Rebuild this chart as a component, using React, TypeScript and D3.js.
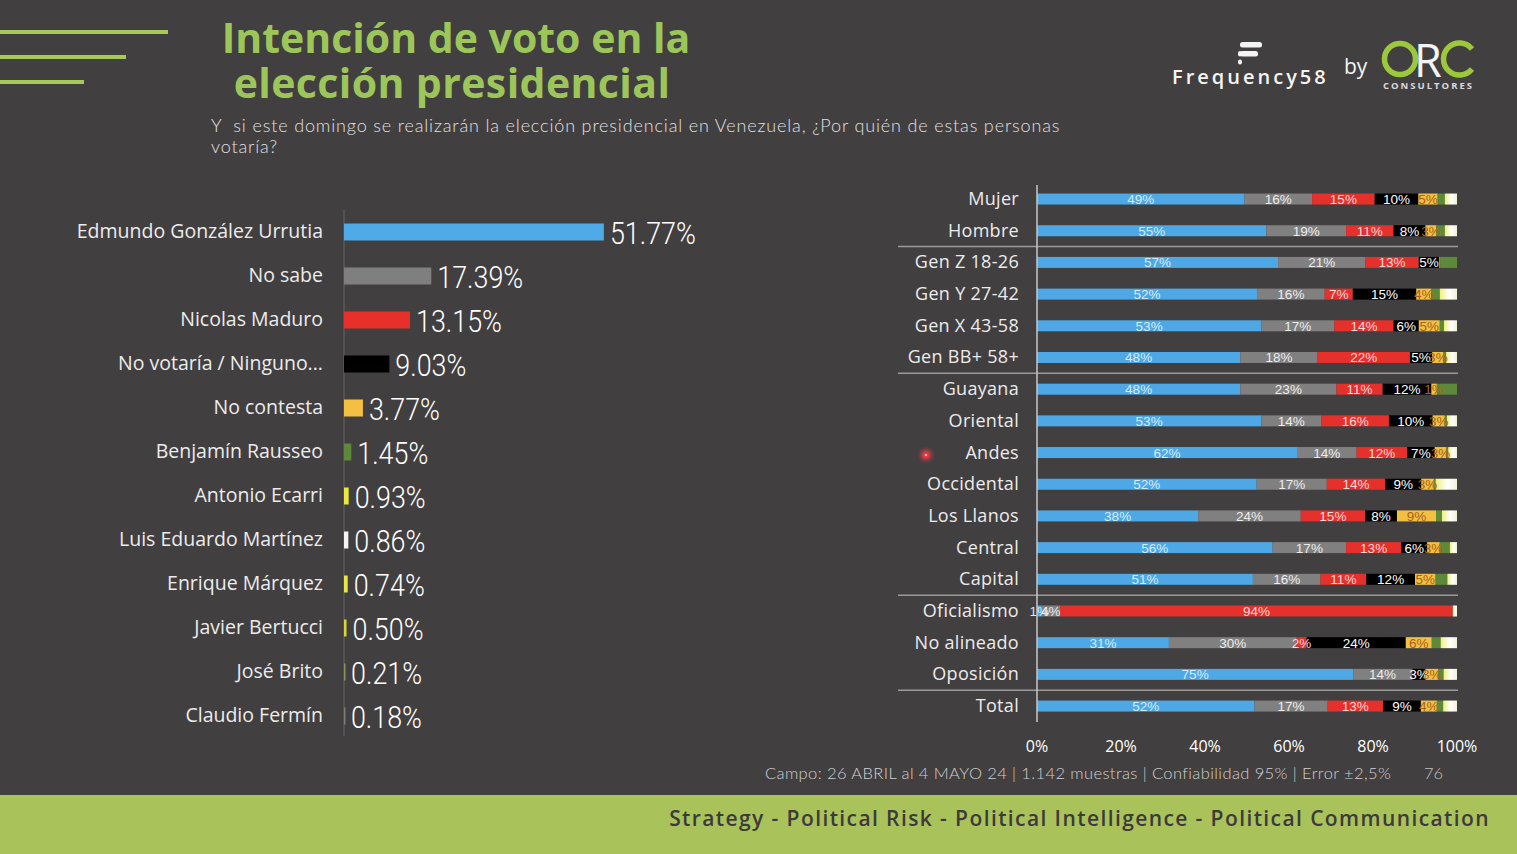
import React, { useEffect } from "react";
import * as d3 from "d3";

// ---------- Left chart data ----------
const candidates = [
  "Edmundo González Urrutia",
  "No sabe",
  "Nicolas Maduro",
  "No votaría / Ninguno...",
  "No contesta",
  "Benjamín Rausseo",
  "Antonio Ecarri",
  "Luis Eduardo Martínez",
  "Enrique Márquez",
  "Javier Bertucci",
  "José Brito",
  "Claudio Fermín",
];
const candidateValues = [51.77, 17.39, 13.15, 9.03, 3.77, 1.45, 0.93, 0.86, 0.74, 0.5, 0.21, 0.18];
const candidateColors = [
  "#4faae8", "#7f7f7f", "#e8302a", "#000000", "#f5bf42", "#5d8a3a",
  "#e9e93c", "#f4f4f4", "#e6e64a", "#d6d63c", "#8e8e5e", "#7d7b6e",
];

// ---------- Right chart data ----------
const rowLabels = [
  "Mujer", "Hombre", "Gen Z 18-26", "Gen Y 27-42", "Gen X 43-58", "Gen BB+ 58+",
  "Guayana", "Oriental", "Andes", "Occidental", "Los Llanos", "Central", "Capital",
  "Oficialismo", "No alineado", "Oposición", "Total",
];
const separatorsAfter = ["Hombre", "Gen BB+ 58+", "Capital", "Oposición"];
const seriesKeys = ["egu", "noSabe", "maduro", "ninguno", "noContesta", "rausseo", "otros"];
const egu = [49.4, 54.6, 57.4, 52.4, 53.4, 48.4, 48.4, 53.4, 61.9, 52.3, 38.4, 56.1, 51.4, 1.1, 31.4, 75.3, 51.8];
const noSabe = [16.1, 19.0, 20.8, 16.1, 17.4, 18.4, 22.9, 14.3, 14.2, 16.7, 24.4, 17.5, 16.1, 4.4, 30.4, 13.9, 17.4];
const maduro = [14.9, 11.3, 12.7, 6.7, 14.1, 22.0, 11.0, 16.1, 12.0, 13.9, 15.3, 13.1, 10.9, 93.5, 2.4, 0.2, 13.2];
const ninguno = [10.4, 7.6, 4.9, 15.1, 6.0, 5.3, 11.6, 10.4, 6.6, 8.6, 7.6, 6.2, 11.6, 0, 23.6, 3.1, 9.0];
const noContesta = [4.6, 2.6, 0.2, 3.6, 5.0, 2.7, 1.3, 2.9, 2.8, 3.0, 9.3, 3.0, 4.9, 0, 6.2, 3.0, 3.8];
const rausseo = [1.7, 2.0, 4.0, 2.0, 1.0, 0.6, 4.8, 0.5, 0.4, 0.4, 1.4, 2.4, 2.8, 0, 2.1, 1.3, 1.5];
const otros = [2.9, 2.9, 0, 4.1, 3.1, 2.6, 0, 2.4, 2.1, 5.1, 3.6, 1.7, 2.3, 1.0, 3.9, 3.2, 3.3];
const seriesColors = ["#4ea8e6", "#808080", "#e5302b", "#000000", "#f2c043", "#5c8a3a", "url(#otrosGrad)"];
const segLabelColors = ["#d4ebfa", "#ececec", "#ffd8d8", "#ffffff", "#a8621c"];
const xTicks = [0, 20, 40, 60, 80, 100];

const BG = "#423f40";
const GREEN = "#9dc65a";
const LABEL_FONT = "'Open Sans', 'Noto Sans', sans-serif";
const LIGHT_FONT = "Lato, 'Open Sans', sans-serif";

export default function App() {
  useEffect(() => {
    document.body.style.margin = "0";
    document.body.style.background = BG;
  }, []);

  const W = 1517, H = 854;

  // left scales
  const xL = d3.scaleLinear().domain([0, 100]).range([344, 846]);
  const yL = d3.scalePoint<string>().domain(candidates).range([210, 738]).padding(0.5);

  // right scales
  const xR = d3.scaleLinear().domain([0, 100]).range([1037, 1457]);
  const yR = d3.scalePoint<string>().domain(rowLabels).range([183.2, 721.9]).padding(0.5);
  const stepR = yR.step();
  const barH = 11;

  const table = rowLabels.map((r, i) => ({
    row: r,
    egu: egu[i], noSabe: noSabe[i], maduro: maduro[i], ninguno: ninguno[i],
    noContesta: noContesta[i], rausseo: rausseo[i], otros: otros[i],
  }));
  const stacked = d3.stack<any>().keys(seriesKeys)(table);

  return (
    <svg width={W} height={H} style={{ display: "block", position: "fixed", left: 0, top: 0 }}>
      <defs>
        <linearGradient id="otrosGrad" x1="0" x2="1" y1="0" y2="0">
          <stop offset="0" stopColor="#eef07c" />
          <stop offset="0.55" stopColor="#ffffff" />
          <stop offset="1" stopColor="#f1f1d6" />
        </linearGradient>
        <radialGradient id="dotGlow">
          <stop offset="0" stopColor="#ff5a5a" stopOpacity="0.9" />
          <stop offset="1" stopColor="#c03040" stopOpacity="0" />
        </radialGradient>
      </defs>
      <rect x={0} y={0} width={W} height={H} fill={BG} />

      {/* header decoration */}
      <line x1={0} x2={168} y1={32} y2={32} stroke="#a6c95a" strokeWidth={4} />
      <line x1={0} x2={126} y1={57} y2={57} stroke="#a6c95a" strokeWidth={4} />
      <line x1={0} x2={84} y1={82} y2={82} stroke="#a6c95a" strokeWidth={4} />

      {/* title */}
      <g fill={GREEN} fontFamily={LABEL_FONT} fontWeight={700} fontSize={41} textAnchor="middle">
        <text x={456} y={53}>Intención de voto en la</text>
        <text x={452} y={98} letterSpacing={0.4}>elección presidencial</text>
      </g>
      <g fill="#e0e0e0" fontFamily={LIGHT_FONT} fontWeight={300} fontSize={18} letterSpacing={0.85}>
        <text x={211} y={132} xmlSpace="preserve">Y  si este domingo se realizarán la elección presidencial en Venezuela, ¿Por quién de estas personas</text>
        <text x={211} y={153}>votaría?</text>
      </g>

      {/* logo */}
      <g fill="#f4f4f4">
        <rect x={1240} y={42} width={22} height={5.5} rx={2.5} />
        <rect x={1240} y={51} width={18} height={5.5} rx={2.5} />
        <rect x={1238} y={51} width={4} height={5.5} rx={2} />
        <rect x={1238} y={59.5} width={4} height={5} rx={2} />
        <text x={1172} y={84} fontFamily={LABEL_FONT} fontWeight={600} fontSize={20} letterSpacing={3}>Frequency58</text>
        <text x={1344} y={74} fontFamily={LABEL_FONT} fontWeight={400} fontSize={21}>by</text>
      </g>
      <g>
        <circle cx={1400} cy={59} r={15.5} fill="none" stroke="#9cc83c" strokeWidth={5.5} />
        <text x={1414} y={77} fontFamily={LABEL_FONT} fontWeight={500} fontSize={45} fill="#f4f4f4">R</text>
        <path d="M1472,49 A16,16 0 1 0 1472,69" fill="none" stroke="#9cc83c" strokeWidth={5.5} />
        <text x={1383} y={89} fontFamily={LABEL_FONT} fontWeight={700} fontSize={9.5} letterSpacing={2} fill="#dadada">CONSULTORES</text>
      </g>

      {/* ---------- left chart ---------- */}
      <line x1={344} x2={344} y1={210} y2={736} stroke="#5b5859" strokeWidth={1.5} />
      {candidates.map((c, i) => {
        const cy = yL(c)!;
        const x1 = xL(candidateValues[i]);
        return (
          <g key={c}>
            <rect x={xL(0)} y={cy - 8.5} width={Math.max(1.5, x1 - xL(0))} height={17} fill={candidateColors[i]} />
            <text x={323} y={cy + 6} textAnchor="end" fontFamily={LABEL_FONT} fontSize={19.5} fill="#ececec">{c}</text>
            <text
              transform={`translate(${x1 + 6},${cy + 12}) scale(0.84,1)`}
              fontFamily="Roboto, sans-serif" fontWeight={300} fontSize={32} fill="#ffffff"
            >
              {candidateValues[i].toFixed(2)}%
            </text>
          </g>
        );
      })}

      {/* ---------- right chart ---------- */}
      {separatorsAfter.map((r) => {
        const y = yR(r)! + stepR / 2;
        return <line key={r} x1={898} x2={1458} y1={y} y2={y} stroke="#9a9a9a" strokeWidth={1.5} />;
      })}
      {rowLabels.map((r) => (
        <text key={r} x={1019} y={yR(r)! + 6} textAnchor="end" fontFamily={LABEL_FONT} fontSize={18} letterSpacing={0.3} fill="#ececec">{r}</text>
      ))}
      {stacked.map((s, si) => (
        <g key={s.key}>
          {s.map((d, ri) => {
            const w = xR(d[1]) - xR(d[0]);
            if (w <= 0) return null;
            return (
              <rect key={ri} x={xR(d[0])} y={yR(rowLabels[ri])! - barH / 2} width={w} height={barH} fill={seriesColors[si]} />
            );
          })}
        </g>
      ))}
      {stacked.map((s, si) =>
        si < 5 ? (
          <g key={"l" + s.key} fontFamily="'Liberation Sans', Arial, sans-serif" fontSize={13.5} textAnchor="middle" fill={segLabelColors[si]}>
            {s.map((d, ri) => {
              const v = d[1] - d[0];
              if (v < 1) return null;
              return (
                <text key={ri} x={(xR(d[0]) + xR(d[1])) / 2} y={yR(rowLabels[ri])! + 5}>
                  {Math.round(v)}%
                </text>
              );
            })}
          </g>
        ) : null
      )}
      <line x1={1037} x2={1037} y1={185} y2={722} stroke="#c8c8c8" strokeWidth={1.5} />
      {xTicks.map((t) => (
        <text key={t} x={xR(t)} y={752} textAnchor="middle" fontFamily={LABEL_FONT} fontSize={16} fill="#ffffff">{t}%</text>
      ))}

      {/* cursor dot */}
      <circle cx={926} cy={455} r={9} fill="url(#dotGlow)" />
      <circle cx={926} cy={455} r={3.5} fill="#e8303a" />
      <circle cx={926} cy={455} r={1.3} fill="#f5b0b0" />

      {/* footnote */}
      <text x={765} y={779} fontFamily={LIGHT_FONT} fontWeight={300} fontSize={16.5} letterSpacing={0.4} fill="#d0d0d0">
        Campo: 26 ABRIL al 4 MAYO 24 | 1.142 muestras | Confiabilidad 95% | Error ±2,5%
      </text>
      <text x={1424} y={779} fontFamily={LIGHT_FONT} fontWeight={300} fontSize={16.5} fill="#c0c0c0">76</text>

      {/* footer band */}
      <rect x={0} y={795} width={W} height={H - 795} fill="#a9c35a" />
      <text x={1490} y={826} textAnchor="end" fontFamily={LABEL_FONT} fontWeight={600} fontSize={21} letterSpacing={1.4} fill="#3e3a3b">
        Strategy - Political Risk - Political Intelligence - Political Communication
      </text>
    </svg>
  );
}
